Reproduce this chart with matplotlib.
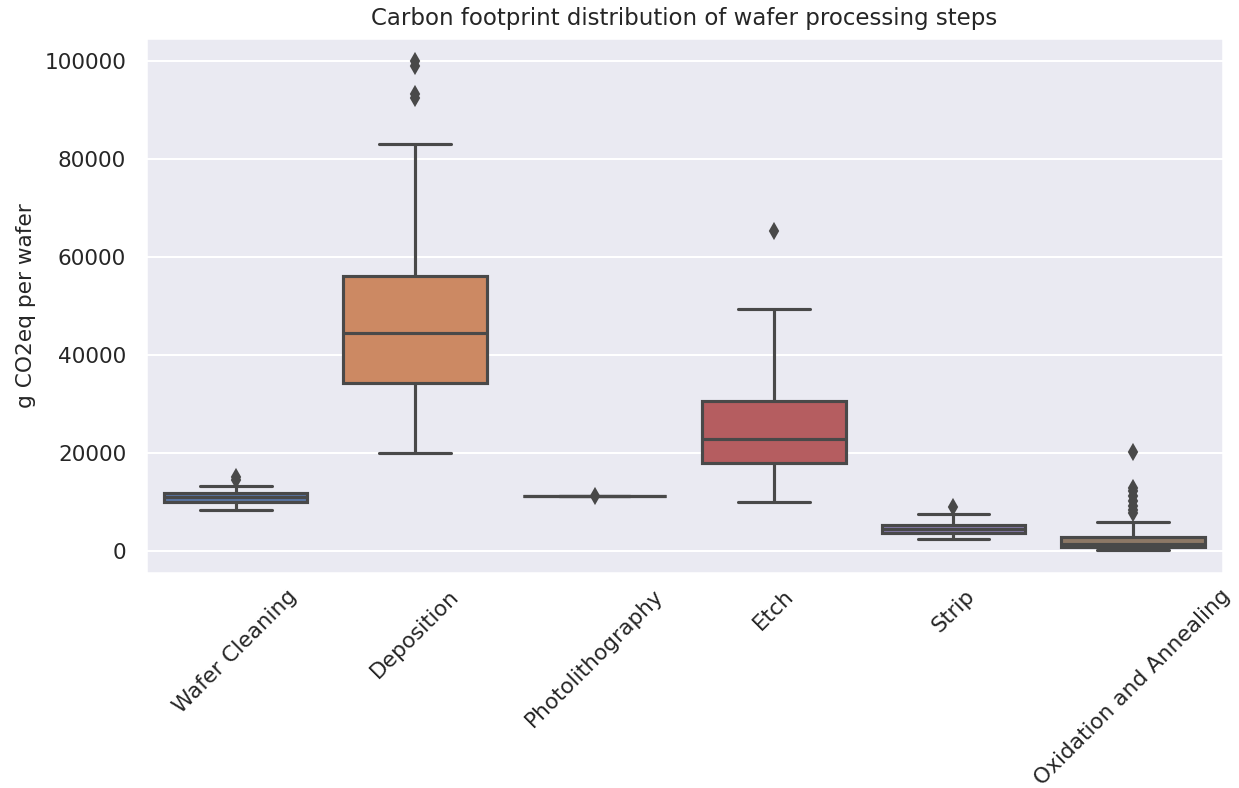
import colorsys

import matplotlib
matplotlib.use("Agg")
import matplotlib.pyplot as plt
import seaborn as sns

# box statistics (g CO2eq per wafer)
steps = ["Wafer Cleaning", "Deposition", "Photolithography", "Etch", "Strip",
         "Oxidation and Annealing"]
q1 = [10000, 34300, 11230, 17950, 3670, 860]
medians = [11080, 44500, 11230, 22800, 4550, 1330]
q3 = [11750, 56100, 11230, 30600, 5300, 2920]
whis_lo = [8430, 20000, 11230, 9950, 2400, 290]
whis_hi = [13330, 83050, 11230, 49400, 7600, 5850]
outliers = [
    [14400, 15000],
    [92500, 93300, 98900, 100000],
    [11200],
    [65300],
    [9000],
    [7800, 8400, 9100, 10300, 11200, 12300, 12900, 20200],
]

sns.set_theme(style="darkgrid", palette="deep")

colors = sns.color_palette("deep", len(steps), desat=0.75)
lum = min(colorsys.rgb_to_hls(*c)[1] for c in colors) * .6
gray = (lum, lum, lum)

fig = plt.figure(figsize=(1239 / 150, 788 / 150), dpi=150)
ax = fig.add_axes([0.1178, 0.2728, 0.869, 0.679])

stats = []
for i, name in enumerate(steps):
    stats.append(dict(label=name, q1=q1[i], med=medians[i], q3=q3[i],
                      whislo=whis_lo[i], whishi=whis_hi[i], fliers=outliers[i]))

lw = 1.5
parts = ax.bxp(
    stats, positions=range(len(steps)), widths=0.8, patch_artist=True,
    boxprops=dict(edgecolor=gray, linewidth=lw),
    medianprops=dict(color=gray, linewidth=lw),
    whiskerprops=dict(color=gray, linewidth=lw),
    capprops=dict(color=gray, linewidth=lw),
    flierprops=dict(marker="d", markersize=5, markerfacecolor=gray,
                    markeredgecolor=gray, linestyle="none"),
)
for box, c in zip(parts["boxes"], colors):
    box.set_facecolor(c)

ax.set_xlim(-0.5, len(steps) - 0.5)
ax.set_ylim(-4500, 104700)
ax.grid(axis="x", visible=False)
ax.set_xticks(range(len(steps)))
ax.set_xticklabels(steps, rotation=45, fontsize=10.4)
ax.tick_params(axis="y", labelsize=10.4)
ax.tick_params(axis="x", pad=0)
ax.set_ylabel("g CO2eq per wafer", fontsize=10.4)
ax.set_title("Carbon footprint distribution of wafer processing steps", fontsize=11)

fig.savefig("out.png", dpi=150)
